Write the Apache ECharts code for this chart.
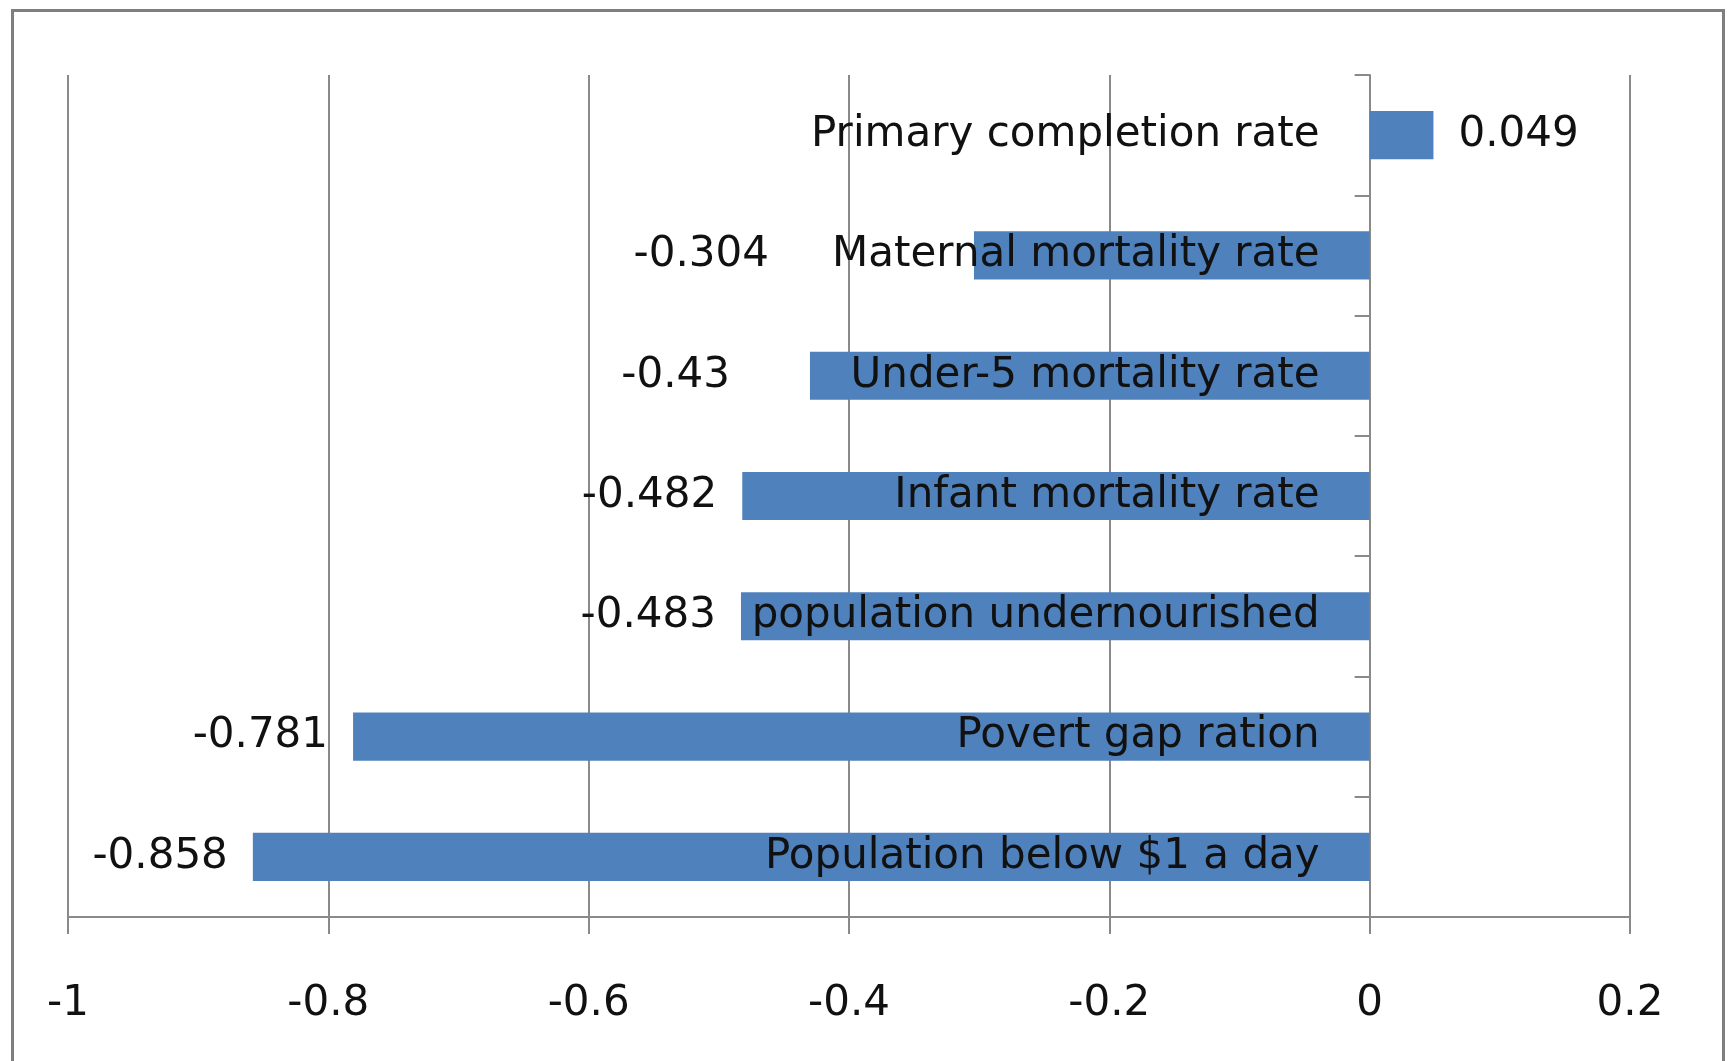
<!DOCTYPE html>
<html>
<head>
<meta charset="utf-8">
<script src="https://cdn.jsdelivr.net/npm/echarts@6/dist/echarts.min.js"></script>
<style>
	html, body { margin: 0; padding: 0; background: #ffffff; }
	#main { width: 1732px; height: 1061px; }
</style>
</head>
<body>
<div id="main"></div>
<script>
// categories listed top to bottom as in the picture
var categories = [ 'Primary completion rate', 'Maternal mortality rate',
		'Under-5 mortality rate', 'Infant mortality rate',
		'population undernourished', 'Povert gap ration',
		'Population below $1 a day' ];
var values = [ 0.049, -0.304, -0.43, -0.482, -0.483, -0.781, -0.858 ];
var xTicks = [ -1, -0.8, -0.6, -0.4, -0.2, 0, 0.2 ];

var fontName = 'DejaVu Sans';
var fontSize = 42;
var textColor = '#111111';
var lineColor = '#8a8a8a';

// Excel pushed two value labels away from the category text
var labelShift = {
	1 : -180,
	2 : -55
};

var barData = values.map(function(v, i) {
	var item = {
		value : v
	};
	if (labelShift[i]) {
		item.label = {
			offset : [ labelShift[i], 0 ]
		};
	}
	return item;
});

// category names sit next to the zero line, so anchor them there
var nameData = categories.map(function(c) {
	return [ 0, c ];
});

var myChart = echarts.init(document.getElementById('main'));
var option = {
	backgroundColor : '#ffffff',
	animation : false,
	graphic : [ {
		type : 'rect',
		left : 10,
		top : 8,
		shape : {
			width : 1711,
			height : 1100
		},
		style : {
			fill : null,
			stroke : '#7f7f7f',
			lineWidth : 3
		},
		z : 0
	} ],
	grid : {
		left : 68,
		right : 102,
		top : 75,
		bottom : 144,
		containLabel : false,
		outerBoundsMode : 'none'
	},
	xAxis : {
		type : 'value',
		min : xTicks[0],
		max : xTicks[xTicks.length - 1],
		interval : 0.2,
		axisLine : {
			show : true,
			lineStyle : {
				color : lineColor,
				width : 2
			}
		},
		axisTick : {
			show : true,
			length : 17,
			lineStyle : {
				color : lineColor,
				width : 2
			}
		},
		splitLine : {
			show : true,
			lineStyle : {
				color : lineColor,
				width : 2
			}
		},
		axisLabel : {
			margin : 66,
			fontFamily : fontName,
			fontSize : fontSize,
			color : textColor
		}
	},
	yAxis : {
		type : 'category',
		data : categories,
		inverse : true,
		axisLine : {
			show : true,
			onZero : true,
			lineStyle : {
				color : lineColor,
				width : 2
			}
		},
		axisTick : {
			show : true,
			length : 15,
			lineStyle : {
				color : lineColor,
				width : 2
			}
		},
		axisLabel : {
			show : false
		}
	},
	series : [ {
		type : 'bar',
		data : barData,
		barWidth : '40%',
		itemStyle : {
			color : '#4F81BD'
		},
		label : {
			show : true,
			position : 'outside',
			distance : 25,
			fontFamily : fontName,
			fontSize : fontSize,
			color : textColor,
			formatter : function(p) {
				return String(p.value);
			}
		}
	}, {
		type : 'scatter',
		data : nameData,
		symbolSize : 0,
		silent : true,
		z : 5,
		itemStyle : {
			opacity : 1
		},
		label : {
			show : true,
			position : 'left',
			distance : 50,
			opacity : 1,
			fontFamily : fontName,
			fontSize : fontSize,
			color : textColor,
			formatter : function(p) {
				return p.value[1];
			}
		}
	} ]
};
myChart.setOption(option);
</script>
</body>
</html>
